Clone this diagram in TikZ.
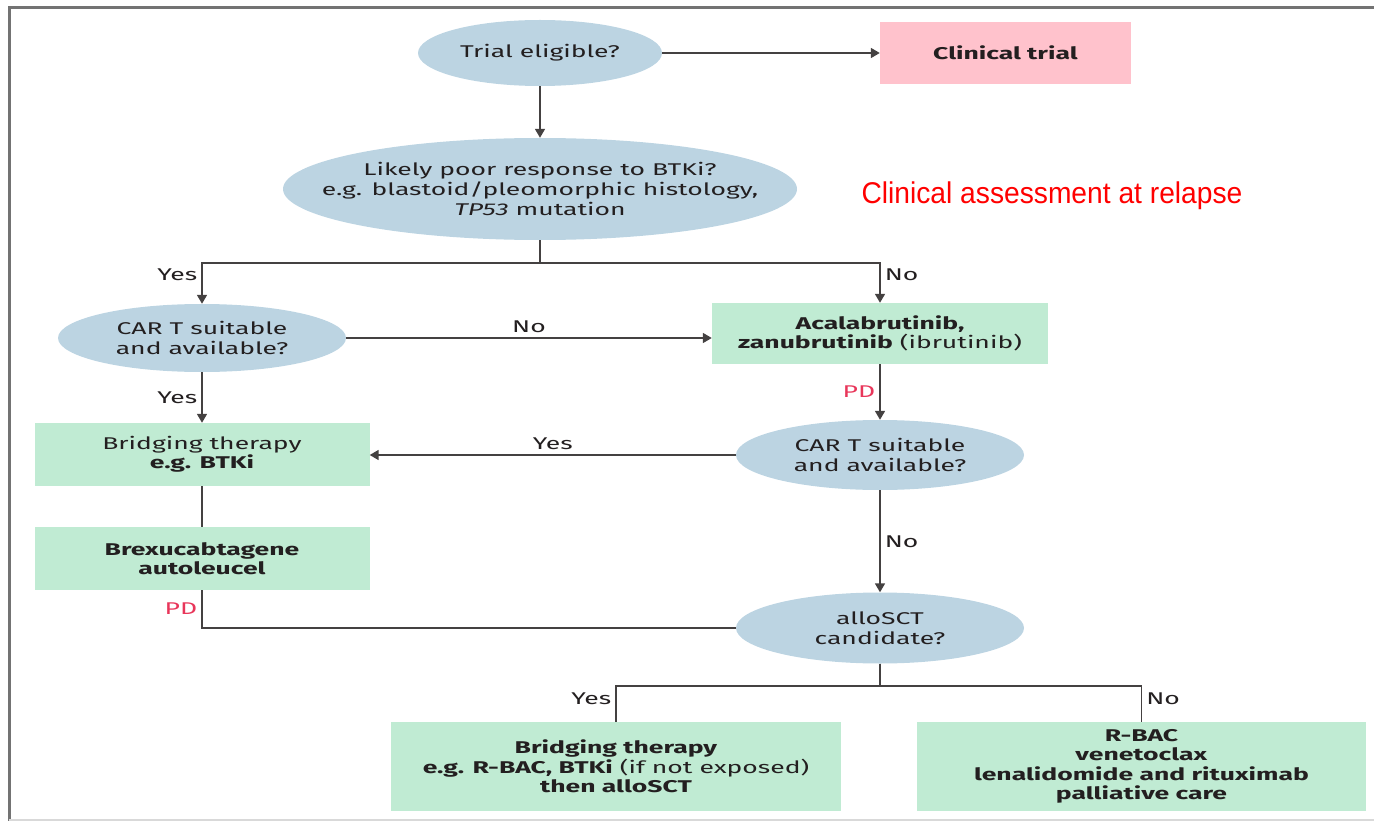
\documentclass[tikz,border=0pt]{standalone}
\usepackage{fontspec}
\setmainfont{Fira Sans}[FakeStretch=1.56]
\newfontfamily\notefont[FakeStretch=0.94]{Liberation Sans}
\usetikzlibrary{shapes.geometric,arrows.meta}

\definecolor{qblue}{HTML}{BCD4E2}
\definecolor{tgreen}{HTML}{C0EBD3}
\definecolor{tpink}{HTML}{FFC2CC}
\definecolor{ink}{HTML}{231F20}
\definecolor{pdred}{HTML}{E8365A}

\begin{document}
\begin{tikzpicture}[x=1pt,y=-1pt]

\tikzset{%
    question/.style={ellipse,fill=qblue,text=ink,inner sep=0pt,align=center,font=\fontsize{17}{20}\selectfont},
    therapy/.style={rectangle,fill=tgreen,text=ink,inner sep=0pt,align=center,font=\fontsize{17}{19.5}\selectfont},
    flow/.style={draw=ink!85,line width=1.7pt,>={Triangle[length=9pt,width=10pt]}},
    answer/.style={text=ink,font=\fontsize{17}{20}\selectfont,inner sep=4pt},
    pd/.style={answer,text=pdred},
}

\def\drop{23}
\def\fork{22}

\useasboundingbox (0,0) rectangle (1374,821);

% frame
\draw [gray!90!black, line width=3pt] (9,821) -- (9,8) -- (1374,8);
\draw [gray!30, line width=2pt] (9,820) -- (1374,820);

% questions
\node [question, minimum width=244pt, minimum height=66pt] (trial) at (540,53) {Trial eligible?};
\node [question, inner xsep=-40pt, minimum width=514pt, minimum height=102pt] (likely) at (540,189)
    {Likely poor response to BTKi?\\e.g. blastoid/pleomorphic histology,\\\textit{TP53} mutation};
\node [question, minimum width=288pt, minimum height=68pt] (cart1) at (202,338) {CAR T suitable\\and available?};
\node [question, minimum width=288pt, minimum height=70pt] (cart2) at (880,455) {CAR T suitable\\and available?};
\node [question, minimum width=288pt, minimum height=71pt] (allo) at (880,628) {alloSCT\\candidate?};

% therapies
\node [therapy, fill=tpink, minimum width=251pt, minimum height=62pt] (ctrial) at (1005.5,53) {\textbf{Clinical trial}};
\node [therapy, minimum width=336pt, minimum height=61pt] (acala) at (880,333.5)
    {\textbf{Acalabrutinib,}\\\textbf{zanubrutinib} (ibrutinib)};
\node [therapy, minimum width=335pt, minimum height=63pt] (bridge1) at (202,454.5) {Bridging therapy\\\textbf{e.g. BTKi}};
\node [therapy, minimum width=335pt, minimum height=63pt] (brexu) at (202,558.5) {\textbf{Brexucabtagene}\\\textbf{autoleucel}};
\node [therapy, minimum width=450pt, minimum height=89pt] (bridge2) at (616,766.5)
    {\textbf{Bridging therapy}\\\textbf{e.g. R-BAC, BTKi} (if not exposed)\\\textbf{then alloSCT}};
\node [therapy, minimum width=449pt, minimum height=89pt] (rbac) at (1141.5,766.5)
    {\textbf{R-BAC}\\\textbf{venetoclax}\\\textbf{lenalidomide and rituximab}\\\textbf{palliative care}};

\node [text=red, font=\notefont\fontsize{30}{33}\selectfont] (note) at (1052,196) {Clinical assessment at relapse};

% connectors
\draw [flow, ->] (trial) -- (ctrial);
\draw [flow, ->] (trial) -- (likely);
\draw [flow, ->] (likely.south) -- ++(0,\drop) -| (cart1.north) node [answer, pos=0.64, left] (yes1) {Yes};
\draw [flow, ->] (likely.south) -- ++(0,\drop) -| (acala.north) node [answer, pos=0.64, right] (no1) {No};
\draw [flow, ->] (cart1.east) -- (cart1.east -| acala.west) node [answer, midway, above] (no2) {No};
\draw [flow, ->] (cart1) -- (bridge1) node [answer, midway, left] (yes2) {Yes};
\draw [flow, ->] (acala) -- (cart2) node [pd, midway, left] (pd1) {PD};
\draw [flow, ->] (cart2.west) -- (cart2.west -| bridge1.east) node [answer, midway, above] (yes3) {Yes};
\draw [flow] (bridge1) -- (brexu);
\draw [flow, ->] (cart2) -- (allo) node [answer, midway, right] (no3) {No};
\draw [flow] (brexu.south) |- (allo.west) node [pd, pos=0.25, left] (pd2) {PD};
\draw [flow] (allo.south) -- ++(0,\fork) -| (bridge2.north) node [answer, pos=0.68, left] (yes4) {Yes};
\draw [flow] (allo.south) -- ++(0,\fork) -| (rbac.north) node [answer, pos=0.68, right] (no4) {No};

\end{tikzpicture}
\end{document}
